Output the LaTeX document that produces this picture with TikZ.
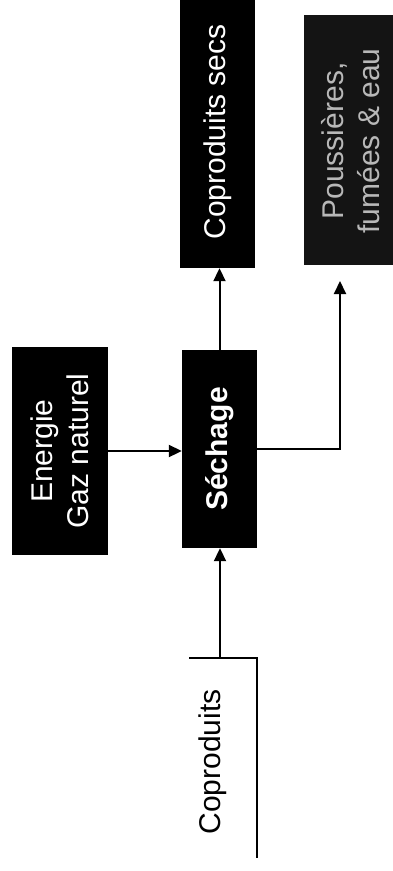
\documentclass[tikz,border=0pt]{standalone}
\usepackage{fontspec}
\setmainfont{Liberation Sans}
\usetikzlibrary{arrows.meta}
\begin{document}
\begin{tikzpicture}[x=1pt,y=-1pt,
  blk/.style={fill=black,draw=none,inner sep=0pt},
  lbl/.style={rotate=90,align=center,text=white,inner sep=0pt,font=\fontsize{30}{36}\selectfont},
  conn/.style={line width=2pt},
  arr/.style={conn,-{Triangle[length=13pt,width=12pt]}}]
\useasboundingbox (0,0) rectangle (393,871);
% boxes
\node[blk,minimum width=75pt,minimum height=272pt] (secs) at (217.5,132) {};
\node[lbl] at (secs.center) {Coproduits secs};
\begin{scope}
\clip (0,0) rectangle (393,871);
\node[blk,fill=black!92,minimum width=96pt,minimum height=250pt] (pous) at (352,140) {};
\node[lbl,text=white!72!black] at (351,141) {Poussières,\\fumées \& eau};
\end{scope}
\node[blk,minimum width=96pt,minimum height=208pt] (ener) at (60,451) {};
\node[lbl] at (ener.center) {Energie\\Gaz naturel};
\node[blk,minimum width=75pt,minimum height=198pt] (sech) at (219.5,449) {};
\node[lbl,font=\fontsize{30}{36}\selectfont\bfseries] at (sech.center) {Séchage};
% input label
\node[rotate=90,inner sep=0pt,font=\fontsize{30}{36}\selectfont] (copr) at (213,762) {Coproduits};
% coordinates
\coordinate (pt) at (340,281);
\coordinate (cin) at (220,658);
\coordinate (c1) at (189,658);
\coordinate (c2) at (257,658);
\coordinate (c3) at (257,858);
% connectors
\draw[arr] (ener.east) -- (ener.east -| sech.west);
\draw[arr] (sech.north) -- (sech.north |- secs.south);
\draw[arr] (sech.east) -| (pt);
\draw[arr] (cin) -- (cin |- sech.south);
\draw[conn] (c1) -- (c2) -- (c3);
\end{tikzpicture}
\end{document}
